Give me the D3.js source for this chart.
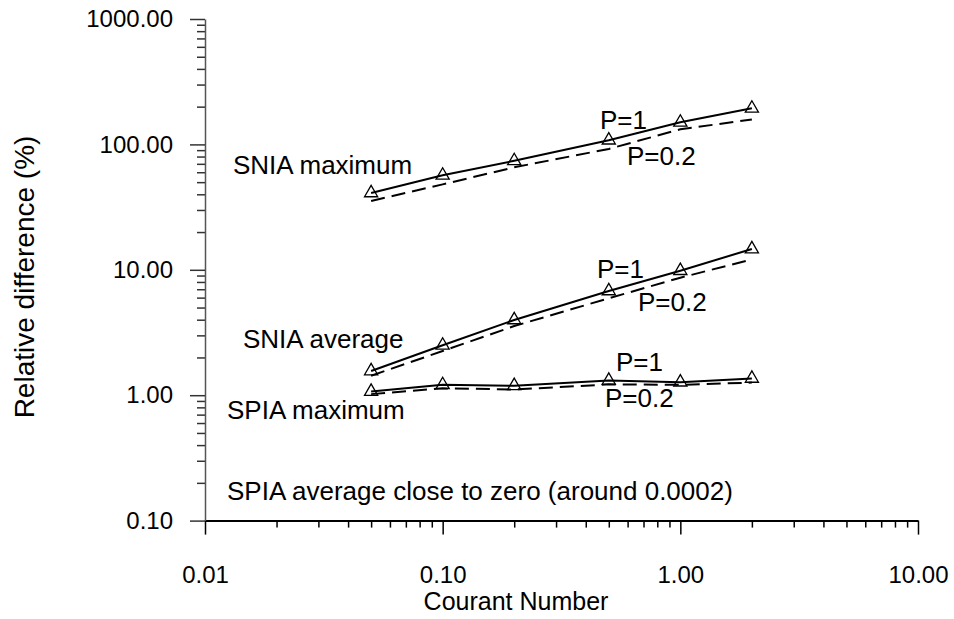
<!DOCTYPE html>
<html>
<head>
<meta charset="utf-8">
<script src="https://cdn.jsdelivr.net/npm/d3@7"></script>
<style>
  body { margin: 0; background: #fff; }
  text { font-family: "Liberation Sans", Arial, sans-serif; fill: #000; }
</style>
</head>
<body>
<div id="chart"></div>
<script>
// datos
var courant = [0.05, 0.1, 0.2, 0.5, 1, 2];
var sniaMaxP1 = [41, 56.7, 74, 108, 150, 194];
var sniaMaxP02 = [35.4, 48, 65.7, 92, 132, 158];
var sniaAvgP1 = [1.56, 2.5, 3.98, 6.78, 9.84, 14.65];
var sniaAvgP02 = [1.43, 2.25, 3.56, 5.93, 8.65, 12.1];
var spiaMaxP1 = [1.07, 1.21, 1.19, 1.31, 1.27, 1.36];
var spiaMaxP02 = [1.02, 1.135, 1.11, 1.22, 1.21, 1.26];

var xMajor = [0.01, 0.1, 1, 10];
var yMajor = [0.1, 1, 10, 100, 1000];

var width = 954;
var height = 619;

var x = d3.scaleLog().domain([0.01, 10]).range([205, 918]);
var y = d3.scaleLog().domain([0.1, 1000]).range([520.6, 19]);

function minors(majors) {
  var out = [];
  majors.slice(0, -1).forEach(function (m) {
    for (var k = 2; k <= 9; k++) out.push(m * k);
  });
  return out;
}

var svg = d3.select("#chart").append("svg")
  .attr("width", width)
  .attr("height", height);

/* ejes */
var fmt = d3.format(".2f");

svg.append("g")
  .attr("transform", "translate(0,520.6)")
  .call(d3.axisBottom(x).tickValues(minors(xMajor)).tickSize(7).tickSizeOuter(0).tickFormat(""))
  .call(g => g.select(".domain").remove())
  .call(g => g.selectAll("line").attr("stroke", "#000").attr("stroke-width", 1.5));

svg.append("g")
  .attr("class", "x axis")
  .attr("transform", "translate(0,520.6)")
  .call(d3.axisBottom(x).tickValues(xMajor).tickSize(14).tickSizeOuter(0).tickPadding(31).tickFormat(fmt))
  .call(g => g.select(".domain").attr("stroke", "#000").attr("stroke-width", 2))
  .call(g => g.selectAll("line").attr("stroke", "#000").attr("stroke-width", 1.5))
  .call(g => g.selectAll("text").attr("font-size", 24).attr("font-family", null));

svg.append("g")
  .attr("transform", "translate(205,0)")
  .call(d3.axisLeft(y).tickValues(minors(yMajor)).tickSize(8).tickSizeOuter(0).tickFormat(""))
  .call(g => g.select(".domain").remove())
  .call(g => g.selectAll("line").attr("stroke", "#333").attr("stroke-width", 1.5));

svg.append("g")
  .attr("class", "y axis")
  .attr("transform", "translate(205,0)")
  .call(d3.axisLeft(y).tickValues(yMajor).tickSize(15).tickSizeOuter(0).tickPadding(17).tickFormat(fmt))
  .call(g => g.select(".domain").attr("stroke", "#555").attr("stroke-width", 1.5))
  .call(g => g.selectAll("line").attr("stroke", "#333").attr("stroke-width", 1.5))
  .call(g => g.selectAll("text").attr("font-size", 24).attr("font-family", null));

svg.append("text")
  .attr("x", 516)
  .attr("y", 610)
  .attr("text-anchor", "middle")
  .attr("font-size", 25)
  .text("Courant Number");

svg.append("text")
  .attr("transform", "translate(34,277) rotate(-90)")
  .attr("text-anchor", "middle")
  .attr("font-size", 28)
  .text("Relative difference (%)");

/* lineas */
var line = d3.line()
  .x(d => x(d[0]))
  .y(d => y(d[1]));

var series = [
  { values: sniaMaxP1, dash: null, marks: true },
  { values: sniaMaxP02, dash: "14,7", marks: false },
  { values: sniaAvgP1, dash: null, marks: true },
  { values: sniaAvgP02, dash: "14,7", marks: false },
  { values: spiaMaxP1, dash: null, marks: true },
  { values: spiaMaxP02, dash: "14,7", marks: false }
];

series.forEach(function (s) {
  var pts = courant.map((c, i) => [c, s.values[i]]);
  svg.append("path")
    .attr("d", line(pts))
    .attr("fill", "none")
    .attr("stroke", "#000")
    .attr("stroke-width", 2)
    .attr("stroke-dasharray", s.dash);
  if (s.marks) {
    svg.append("g").selectAll("path")
      .data(pts).enter()
      .append("path")
      .attr("d", d3.symbol(d3.symbolTriangle, 75))
      .attr("transform", d => `translate(${x(d[0])},${y(d[1])})`)
      .attr("fill", "none")
      .attr("stroke", "#000")
      .attr("stroke-width", 1.3);
  }
});

/* etiquetas */
var labels = [
  { t: "SNIA maximum", x: 233, y: 174 },
  { t: "SNIA average", x: 243, y: 348 },
  { t: "SPIA maximum", x: 227, y: 419 },
  { t: "SPIA average close to zero (around 0.0002)", x: 227, y: 500 },
  { t: "P=1", x: 600, y: 129 },
  { t: "P=0.2", x: 627, y: 165 },
  { t: "P=1", x: 597, y: 278 },
  { t: "P=0.2", x: 638, y: 311 },
  { t: "P=1", x: 616, y: 371 },
  { t: "P=0.2", x: 605, y: 407 }
];

svg.append("g").selectAll("text")
  .data(labels).enter()
  .append("text")
  .attr("x", d => d.x)
  .attr("y", d => d.y)
  .attr("font-size", 26)
  .text(d => d.t);
</script>
</body>
</html>
